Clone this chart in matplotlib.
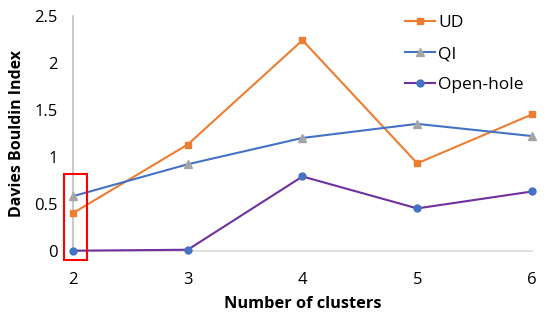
import matplotlib
matplotlib.use("Agg")
import matplotlib.pyplot as plt
from matplotlib.patches import Rectangle

plt.rcParams['font.family'] = ['Open Sans', 'DejaVu Sans']

clusters = [2, 3, 4, 5, 6]
ud = [0.40, 1.13, 2.24, 0.93, 1.45]
qi = [0.58, 0.92, 1.20, 1.35, 1.22]
open_hole = [0.0, 0.01, 0.79, 0.45, 0.63]
yticks = [0, 0.5, 1, 1.5, 2, 2.5]
ytick_labels = ["0", "0.5", "1", "1.5", "2", "2.5"]

fig = plt.figure(figsize=(5.5, 3.2), dpi=100)
ax = fig.add_axes([0.1327, 0.2166, 0.8345, 0.734])

ax.plot(clusters, ud, color="#ED7D31", marker="s", markersize=4.5, linewidth=1.5, label="UD", clip_on=False, zorder=3)
ax.plot(clusters, qi, color="#4472C4", marker="^", markersize=5.5, markerfacecolor="#A5A5A5",
        markeredgecolor="#A5A5A5", linewidth=1.5, label="QI", clip_on=False, zorder=3)
ax.plot(clusters, open_hole, color="#7030A0", marker="o", markersize=5, markerfacecolor="#4472C4",
        markeredgecolor="#4472C4", linewidth=1.5, label="Open-hole", clip_on=False, zorder=3)

# red highlight box around k=2
ax.add_patch(Rectangle((1.92, -0.10), 0.2, 0.915, fill=False, edgecolor="red", linewidth=1.5, clip_on=False, zorder=4))

ax.set_xlim(2, 6)
ax.set_ylim(0, 2.5)
ax.set_xticks(clusters)
ax.set_yticks(yticks, ytick_labels)
ax.tick_params(length=0, labelsize=12, pad=11)
ax.tick_params(axis="x", pad=15)

for s in ["top", "right"]:
    ax.spines[s].set_visible(False)
ax.spines["left"].set_color("#BFBFBF")
ax.spines["bottom"].set_color("#D9D9D9")
ax.spines["left"].set_linewidth(1.2)
ax.spines["bottom"].set_linewidth(1.2)

ax.set_xlabel("Number of clusters", fontsize=11.8, fontweight="bold", labelpad=6)
ax.set_ylabel("Davies Bouldin Index", fontsize=11.5, fontweight="bold")
ax.yaxis.set_label_coords(-0.104, 0.5)

ax.legend(loc="upper left", bbox_to_anchor=(0.69, 1.07), frameon=False, fontsize=12.5,
          handlelength=1.7, handletextpad=0.2, labelspacing=0.85)

fig.savefig("out.png", dpi=100)
